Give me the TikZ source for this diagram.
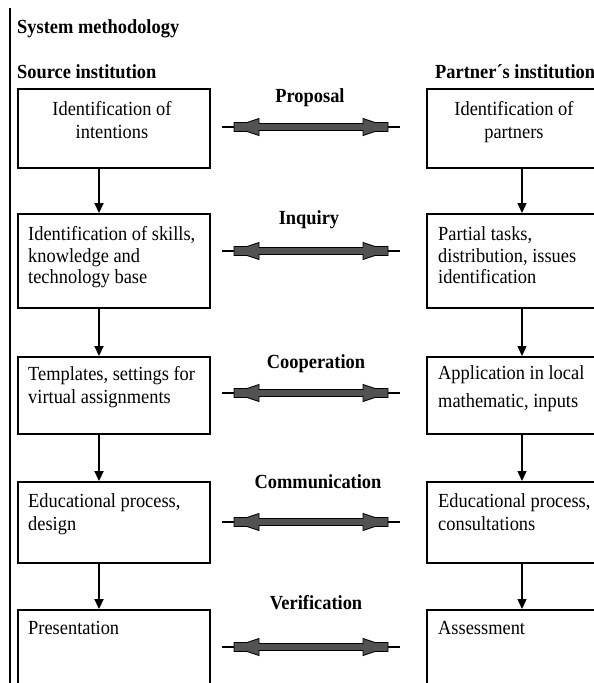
\documentclass[tikz,border=0pt]{standalone}
\usepackage{fontspec}
\setmainfont[FakeStretch=0.92]{Liberation Serif}
\usetikzlibrary{arrows.meta}
\definecolor{arrowgray}{RGB}{82,82,82}
\tikzset{
  x=1pt, y=-1pt,
  every node/.style={font=\fontsize{20}{22}\selectfont},
  box/.style={draw, line width=1.6pt, anchor=north west, inner sep=0pt, minimum width=192pt},
  rbox/.style={draw, line width=1.6pt, anchor=north west, inner sep=0pt, minimum width=200pt},
  txt/.style={anchor=base west, inner sep=0pt},
  ctxt/.style={anchor=base, inner sep=0pt},
  lbl/.style={anchor=base, inner sep=0pt, font=\fontsize{20}{22}\selectfont\bfseries},
  head/.style={anchor=base west, inner sep=0pt, font=\fontsize{20}{22}\selectfont\bfseries},
  varrowL/.style={line width=2.2pt, -{Triangle[length=10pt,width=9pt]}},
  varrowR/.style={line width=1.4pt, -{Triangle[length=10pt,width=9pt]}},
  dbl/.pic={
    \draw[line width=1.3pt] (-89,0) -- (-77,0) (77,0) -- (89,0);
    \filldraw[fill=arrowgray, draw=black, line width=0.9pt]
      (-77,4.5) -- (-64,4.5) -- (-52,8.5) -- (-52,3.5) -- (52,3.5) -- (52,8.5)
      -- (64,4.5) -- (77,4.5) -- (77,-4.5) -- (64,-4.5) -- (52,-8.5) -- (52,-3.5)
      -- (-52,-3.5) -- (-52,-8.5) -- (-64,-4.5) -- (-77,-4.5) -- cycle;
  }
}
\begin{document}
\begin{tikzpicture}
\useasboundingbox (0,0) rectangle (594,683);
\clip (0,0) rectangle (594,683);
\fill[white] (0,0) rectangle (594,683);

% page rule
\draw[line width=2pt] (10,8) -- (10,690);

% headings
\node[head] (title) at (17,33) {System methodology};
\node[head] (src) at (17,78) {Source institution};
\node[head] (prt) at (435,78) {Partner´s institution};

% left boxes
\node[box, minimum height=79pt] (L1) at (17,88) {};
\node[box, minimum height=94pt] (L2) at (17,213) {};
\node[box, minimum height=77pt] (L3) at (17,356) {};
\node[box, minimum height=81pt] (L4) at (17,481) {};
\node[box, minimum height=100pt] (L5) at (17,609) {};

% right boxes
\node[rbox, minimum height=79pt] (R1) at (426,88) {};
\node[rbox, minimum height=94pt] (R2) at (426,213) {};
\node[rbox, minimum height=77pt] (R3) at (426,356) {};
\node[rbox, minimum height=81pt] (R4) at (426,481) {};
\node[rbox, minimum height=100pt] (R5) at (426,609) {};

% left texts
\node[ctxt] (L1a) at (112,115) {Identification of};
\node[ctxt] (L1b) at (112,138) {intentions};
\node[txt] (L2a) at (28,240) {Identification of skills,};
\node[txt] (L2b) at (28,262) {knowledge and};
\node[txt] (L2c) at (28,283) {technology base};
\node[txt] (L3a) at (28,380) {Templates, settings for};
\node[txt] (L3b) at (28,403) {virtual assignments};
\node[txt] (L4a) at (28,507) {Educational process,};
\node[txt] (L4b) at (28,530) {design};
\node[txt] (L5a) at (28,634) {Presentation};

% right texts
\node[ctxt] (R1a) at (514,115) {Identification of};
\node[ctxt] (R1b) at (514,138) {partners};
\node[txt] (R2a) at (438,240) {Partial tasks,};
\node[txt] (R2b) at (438,262) {distribution, issues};
\node[txt] (R2c) at (438,283) {identification};
\node[txt] (R3a) at (438,379) {Application in local};
\node[txt] (R3b) at (438,407) {mathematic, inputs};
\node[txt] (R4a) at (438,507) {Educational process,};
\node[txt] (R4b) at (438,530) {consultations};
\node[txt] (R5a) at (438,634) {Assessment};

% vertical connectors
\coordinate (cxL) at (99,0);
\coordinate (cxR) at (522,0);
\draw[varrowL] (L1.south -| cxL) -- (L2.north -| cxL);
\draw[varrowL] (L2.south -| cxL) -- (L3.north -| cxL);
\draw[varrowL] (L3.south -| cxL) -- (L4.north -| cxL);
\draw[varrowL] (L4.south -| cxL) -- (L5.north -| cxL);
\draw[varrowR] (R1.south -| cxR) -- (R2.north -| cxR);
\draw[varrowR] (R2.south -| cxR) -- (R3.north -| cxR);
\draw[varrowR] (R3.south -| cxR) -- (R4.north -| cxR);
\draw[varrowR] (R4.south -| cxR) -- (R5.north -| cxR);

% exchange labels and double arrows
\node[lbl] (p1) at (310,102) {Proposal};
\node[lbl] (p2) at (309,224) {Inquiry};
\node[lbl] (p3) at (316,368) {Cooperation};
\node[lbl] (p4) at (318,488) {Communication};
\node[lbl] (p5) at (316,609) {Verification};
\coordinate (a1) at (311,127);
\coordinate (a2) at (311,251);
\coordinate (a3) at (311,393);
\coordinate (a4) at (311,522);
\coordinate (a5) at (311,647);
\pic at (a1) {dbl};
\pic at (a2) {dbl};
\pic at (a3) {dbl};
\pic at (a4) {dbl};
\pic at (a5) {dbl};
\end{tikzpicture}
\end{document}
